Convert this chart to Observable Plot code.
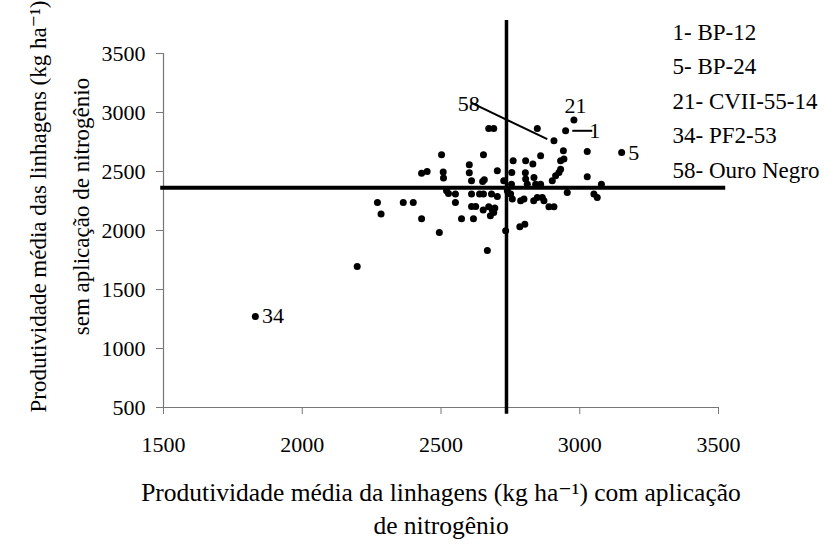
<!DOCTYPE html>
<html><head><meta charset="utf-8">
<script src="https://cdn.jsdelivr.net/npm/d3@7"></script>
<script src="https://cdn.jsdelivr.net/npm/@observablehq/plot@0.6"></script>
<style>
body{margin:0;background:#fff}
#chart{width:834px;height:547px}
#chart svg, #chart svg text{font-family:"Liberation Serif", "DejaVu Serif", serif !important;}
</style>
</head><body><div id="chart"></div>
<script>
// Productivity with nitrogen (x) and without nitrogen (y), kg ha-1
const withN = [1831,2198,2271,2284,2364,2400,2430,2450,2430,2494,2502,2508,2509,2520,2527,2552,2552,2574,2602,2602,2610,2610,2610,2625,2617,2639,2650,2656,2653,2653,2672,2690,2682,2703,2703,2652,2672,2685,2694,2678,2690,2667,2726,2733,2739,2751,2757,2754,2755,2760,2787,2799,2784,2802,2805,2831,2804,2805,2835,2811,2841,2834,2847,2847,2859,2859,2865,2871,2889,2907,2901,2913,2925,2931,2907,2931,2943,2941,2949,2979,2955,3027,3027,3051,3063,3078,3151];
const withoutN = [1271,1695,2237,2139,2237,2237,2486,2500,2099,1983,2642,2495,2444,2337,2314,2309,2237,2099,2557,2489,2421,2309,2203,2203,2099,2309,2415,2430,2642,2309,2864,2864,2309,2288,2506,2173,2201,2173,2190,2125,2153,1831,2421,1998,2337,2309,2266,2393,2492,2591,2252,2266,2031,2054,2591,2563,2489,2436,2449,2393,2393,2252,2280,2864,2633,2393,2280,2252,2201,2201,2421,2464,2492,2520,2760,2591,2605,2676,2845,2936,2322,2670,2455,2309,2280,2393,2661];

const meanWithN = 2736;
const meanWithoutN = 2362;

const xTicks = [1500, 2000, 2500, 3000, 3500];
const yTicks = [500, 1000, 1500, 2000, 2500, 3000, 3500];

// Point labels (data-space anchors)
const labelText = ["34", "5", "1", "21", "58"];
const labelX = [1895, 3195, 3054, 2985, 2600];
const labelY = [1277, 2661, 2845, 3057, 3071];
const labelAnchor = ["start", "start", "start", "middle", "end"];

// Leader lines
const leaderX1 = [2973, 2606];
const leaderY1 = [2845, 3085];
const leaderX2 = [3045, 2883];
const leaderY2 = [2845, 2775];

const legendLines = ["1- BP-12", "5- BP-24", "21- CVII-55-14", "34- PF2-53", "58- Ouro Negro"];
const xTitle = ["Produtividade média da linhagens (kg ha\u207B\u00B9) com aplicação", "de nitrogênio"];
const yTitle = ["Produtividade média das linhagens (kg ha\u207B\u00B9)", "sem aplicação de nitrogênio"];

const points = withN.map((x, i) => ({x, y: withoutN[i]}));
const labels = labelText.map((t, i) => ({t, x: labelX[i], y: labelY[i], a: labelAnchor[i]}));
const leaders = leaderX1.map((x1, i) => ({x1, y1: leaderY1[i], x2: leaderX2[i], y2: leaderY2[i]}));

const font = "Liberation Serif";

const chart = Plot.plot({
  width: 834,
  height: 547,
  marginLeft: 163,
  marginRight: 116,
  marginTop: 53,
  marginBottom: 140,
  style: {fontFamily: font, fontSize: "22px", color: "#000", background: "#fff"},
  x: {domain: [1500, 3500]},
  y: {domain: [500, 3500]},
  marks: [
    Plot.ruleY([500], {stroke: "#777", strokeWidth: 1.2}),
    Plot.ruleX([1500], {stroke: "#777", strokeWidth: 1.2}),
    Plot.axisX({ticks: xTicks, tickSize: 7, tickPadding: 22, tickFormat: d => String(d), stroke: "#777", label: null, fontSize: 22, fontFamily: font}),
    Plot.axisY({ticks: yTicks, tickSize: 7, tickPadding: 11, tickFormat: d => String(d), stroke: "#777", label: null, fontSize: 22, fontFamily: font}),
    Plot.ruleY([meanWithoutN], {x1: 1490, x2: 3526, stroke: "#000", strokeWidth: 4}),
    Plot.ruleX([meanWithN], {y1: 442, y2: 3780, stroke: "#000", strokeWidth: 3.5}),
    Plot.link(leaders, {x1: "x1", y1: "y1", x2: "x2", y2: "y2", stroke: "#000", strokeWidth: 2}),
    Plot.dot(points, {x: "x", y: "y", r: 3.5, fill: "#000", stroke: null}),
    Plot.text(labels, {x: "x", y: "y", text: "t", textAnchor: d => d.a, fontSize: 22, fontFamily: font, fill: "#000"}),
    Plot.text([legendLines.join("\n")], {frameAnchor: "top-left", dx: 509, dy: -38, textAnchor: "start", lineAnchor: "top", lineHeight: 1.5, fontSize: 23, fontFamily: font, fill: "#000"}),
    Plot.text([xTitle.join("\n")], {frameAnchor: "bottom", dy: 126, textAnchor: "middle", lineHeight: 1.26, fontSize: 25.5, fontFamily: font, fill: "#000"}),
    Plot.text([yTitle.join("\n")], {frameAnchor: "left", dx: -110, dy: -24, rotate: -90, textAnchor: "middle", lineHeight: 1.9, fontSize: 23, fontFamily: font, fill: "#000"})
  ]
});
document.getElementById("chart").appendChild(chart);
</script>
</body></html>
